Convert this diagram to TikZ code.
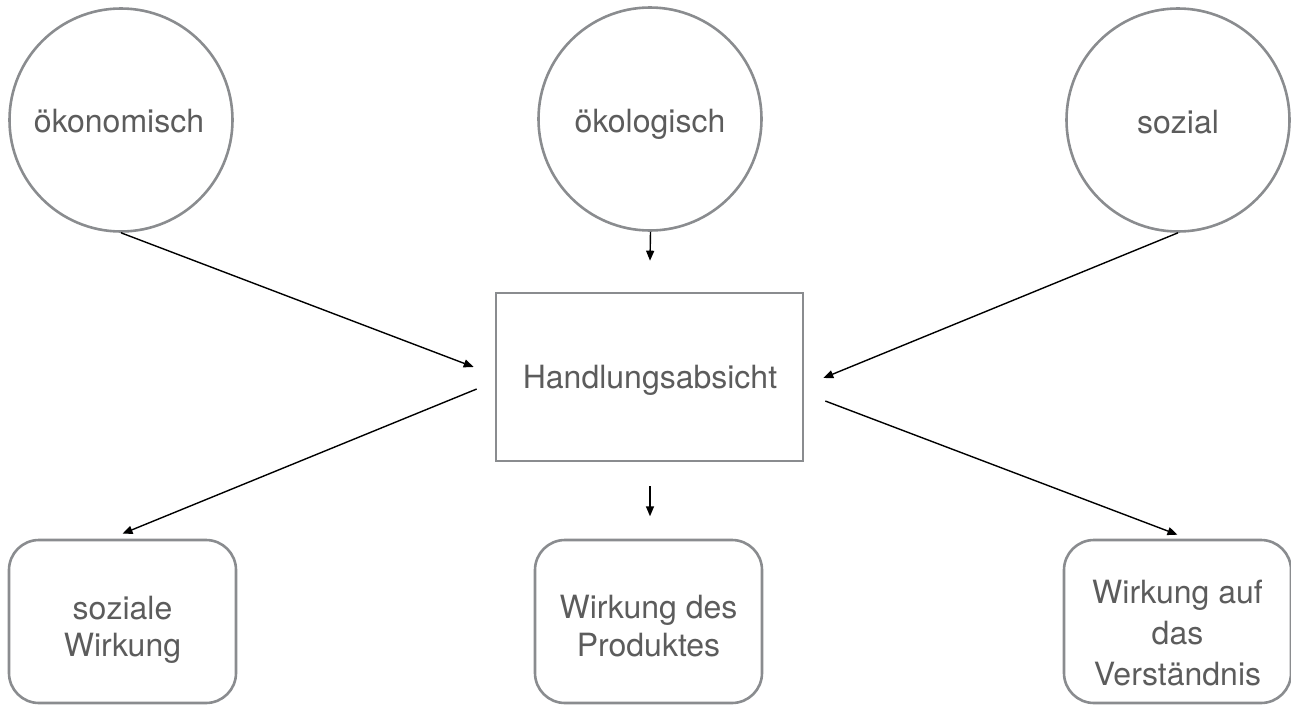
\documentclass[tikz,border=0pt]{standalone}
\usepackage{fontspec}
\setmainfont{TeX Gyre Heros}
\usetikzlibrary{arrows.meta}
\definecolor{edgegray}{HTML}{8A8C8F}
\definecolor{txtgray}{HTML}{5C5C5C}
\begin{document}
\begin{tikzpicture}[x=1pt,y=-1pt,
  circ/.style={circle, draw=edgegray, line width=2.6pt, minimum size=223pt, inner sep=0pt},
  rect/.style={rectangle, draw=edgegray, line width=2.6pt, minimum width=307pt, minimum height=168pt, inner sep=0pt},
  rbox/.style={rectangle, rounded corners=30pt, draw=edgegray, line width=2.6pt, minimum width=227pt, minimum height=163pt, inner sep=0pt},
  lbl/.style={font=\fontsize{32}{38}\selectfont, text=txtgray, align=center, anchor=base, inner sep=0pt},
  conn/.style={-{Triangle[length=10pt,width=8pt]}, line width=1.4pt, black}]
\useasboundingbox (0,0) rectangle (1291,707);
% shapes
\node[circ] (c1) at (121,120) {};
\node[circ] (c2) at (650,119) {};
\node[circ] (c3) at (1178,120) {};
\node[rect] (h) at (649.5,377) {};
\node[rbox] (b1) at (122.5,621.5) {};
\node[rbox] (b2) at (648.5,621.5) {};
\node[rbox] (b3) at (1177.5,621.5) {};
% texts (anchor base = last line)
\node[lbl] (t1) at (119,132) {ökonomisch};
\node[lbl] (t2) at (650,132) {ökologisch};
\node[lbl] (t3) at (1178,133) {sozial};
\node[lbl] (th) at (650,388) {Handlungsabsicht};
\node[lbl,font=\fontsize{32}{37}\selectfont] (tb1) at (122.5,656) {soziale\\Wirkung};
\node[lbl] (tb2) at (648.5,656) {Wirkung des\\Produktes};
\node[lbl,font=\fontsize{32}{41}\selectfont] (tb3) at (1177.5,685) {Wirkung auf\\das\\Verständnis};
% connector ends
\coordinate (e1) at ([shift={(-21,-10)}]h.west);
\coordinate (s2) at ([shift={(0.5,0)}]c2.south);
\coordinate (e2) at ([shift={(0.5,-31)}]h.north);
\coordinate (e3) at ([shift={(19,1)}]h.east);
\coordinate (s4) at ([shift={(-18,12)}]h.west);
\coordinate (e4) at ([shift={(0,-5)}]b1.north);
\coordinate (s5) at ([shift={(0.5,24)}]h.south);
\coordinate (e5) at ([shift={(0.5,54)}]h.south);
\coordinate (s6) at ([shift={(21,24)}]h.east);
\coordinate (e6) at ([shift={(0,-4)}]b3.north);
% connectors
\draw[conn] (c1.south) -- (e1);
\draw[conn] (s2) -- (e2);
\draw[conn] (c3.south) -- (e3);
\draw[conn] (s4) -- (e4);
\draw[conn] (s5) -- (e5);
\draw[conn] (s6) -- (e6);
\end{tikzpicture}
\end{document}
